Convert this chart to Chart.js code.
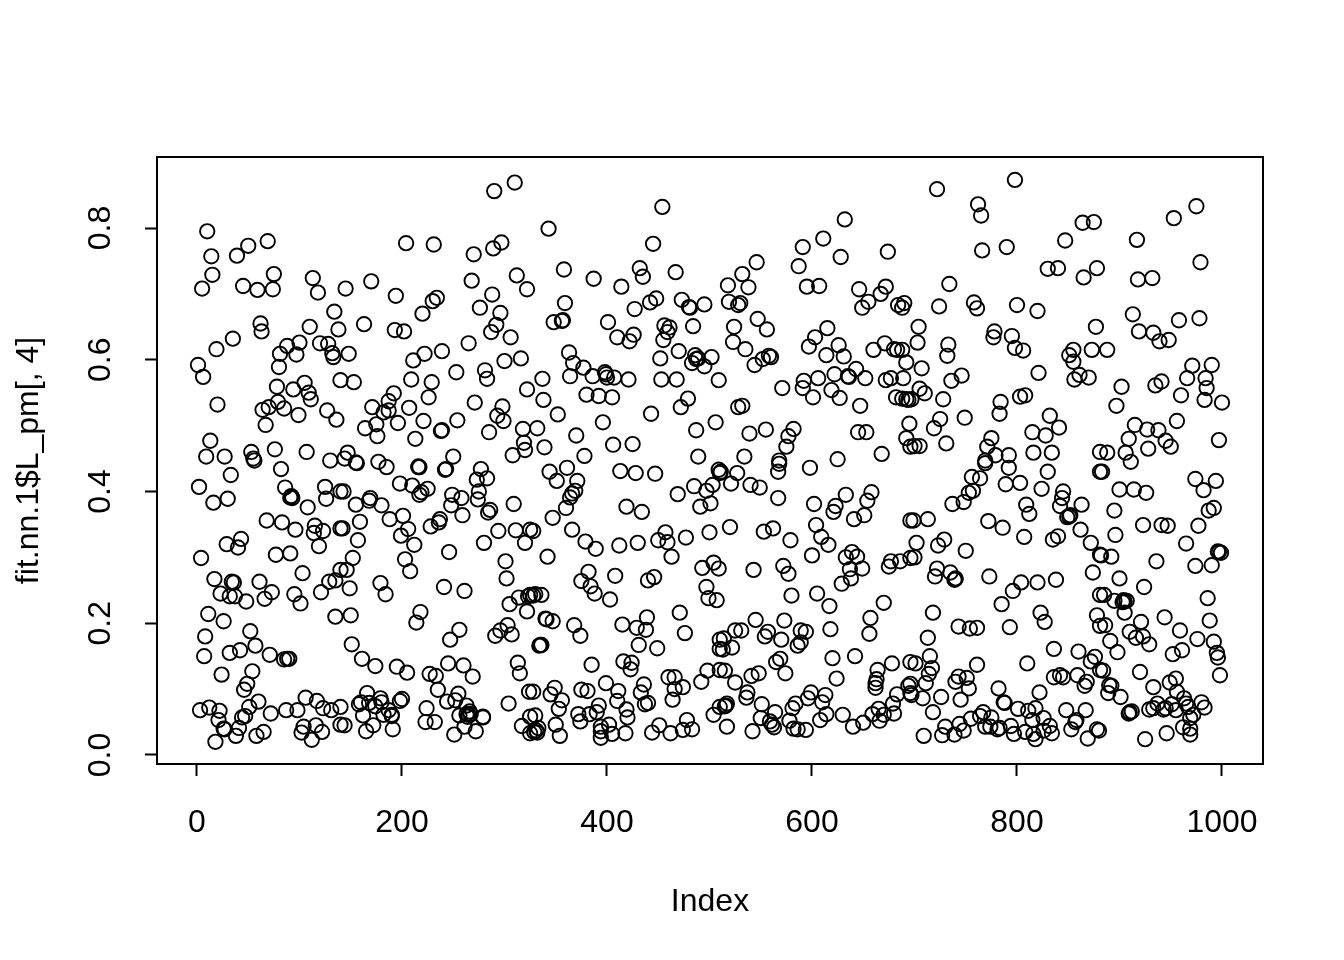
<!DOCTYPE html>
<html>
<head>
<meta charset="utf-8">
<script src="https://cdn.jsdelivr.net/npm/chart.js@4"></script>
<style>
  html, body { margin: 0; background: #fff; }
  canvas { display: block; }
</style>
</head>
<body>
<canvas id="chart" width="1344" height="960"></canvas>
<script>
// [Index, fit.nn.1$L_pm[, 4]], one list per block of the plot
const upper0 = [[10,.795],[14,.757],[50,.773],[39,.758],[69,.78],[15,.729],[5,.708],[45,.712],[59,.706],[75,.73],[74,.707],[113,.724],[118,.702],[134,.673],[62,.655],[63,.643],[110,.65],[138,.646],[35,.632],[19,.616],[1,.592],[6,.574],[100,.626],[88,.621],[81,.609],[97,.608],[80,.589],[120,.625],[128,.624],[132,.61],[133,.604],[140,.569],[105,.565],[78,.559],[94,.555],[109,.55],[111,.54],[79,.536],[70,.528],[64,.524],[85,.526],[99,.516],[127,.523],[136,.509],[67,.501],[20,.532],[13,.477],[9,.453],[27,.453],[53,.46],[55,.45],[56,.447],[76,.464],[107,.46],[130,.447]];
const lower0 = [[82,.434],[33,.425],[2,.407],[30,.389],[16,.383],[86,.406],[125,.407],[92,.393],[93,.39],[91,.391],[126,.389],[108,.376],[140,.4],[68,.356],[83,.353],[96,.342],[115,.348],[114,.337],[123,.34],[140,.344],[119,.317],[43,.328],[29,.32],[40,.315],[4,.299],[77,.304],[91,.306],[103,.276],[17,.267],[23,.245],[34,.263],[36,.262],[32,.241],[37,.241],[48,.233],[61,.263],[73,.247],[66,.237],[95,.244],[101,.23],[121,.247],[129,.263],[135,.265],[140,.281],[135,.21],[11,.214],[26,.203],[52,.188],[8,.18],[57,.166],[42,.159],[32,.155],[71,.152],[7,.15],[85,.145],[88,.146],[90,.146],[54,.127],[24,.122],[49,.108],[46,.099],[106,.087],[117,.082],[60,.081],[51,.073],[123,.071],[131,.068],[140,.073],[3,.068],[12,.072],[22,.067],[87,.068],[98,.068],[72,.063],[47,.059],[44,.057],[21,.053],[41,.041],[26,.04],[27,.039],[38,.029],[18,.02],[58,.029],[65,.035],[104,.043],[102,.034],[116,.045],[122,.035],[112,.023],[140,.046]];
const upper1 = [[310,.869],[290,.856],[204,.777],[231,.775],[297,.778],[289,.769],[270,.76],[268,.72],[312,.728],[322,.707],[288,.699],[170,.719],[145,.708],[194,.697],[234,.694],[230,.689],[220,.67],[276,.679],[296,.671],[292,.653],[287,.642],[306,.634],[163,.654],[193,.645],[202,.643],[148,.609],[153,.566],[265,.625],[239,.613],[222,.609],[211,.599],[253,.581],[281,.584],[283,.571],[300,.598],[316,.602],[209,.57],[229,.566],[226,.543],[322,.555],[192,.549],[187,.537],[171,.528],[182,.52],[187,.523],[207,.527],[271,.535],[298,.529],[293,.515],[299,.507],[175,.502],[164,.496],[176,.484],[196,.504],[221,.507],[254,.508],[239,.493],[238,.492],[213,.48],[285,.49],[318,.495],[319,.474],[320,.463],[308,.455],[250,.453],[147,.459],[144,.45]];
const lower1 = [[156,.443],[155,.444],[177,.445],[185,.437],[216,.437],[216,.438],[217,.437],[242,.433],[243,.434],[277,.434],[273,.418],[283,.42],[198,.412],[210,.409],[225,.404],[219,.399],[217,.395],[275,.4],[274,.388],[249,.395],[258,.39],[248,.379],[259,.364],[286,.372],[284,.368],[309,.381],[143,.4],[169,.39],[168,.386],[155,.38],[180,.379],[188,.358],[201,.363],[159,.354],[206,.343],[199,.333],[212,.319],[142,.344],[157,.326],[237,.358],[236,.353],[228,.347],[294,.34],[311,.341],[325,.342],[320,.322],[280,.322],[246,.308],[152,.299],[146,.281],[203,.297],[208,.279],[149,.253],[179,.261],[184,.244],[301,.294],[302,.268],[241,.255],[261,.249],[314,.239],[325,.243],[323,.241],[305,.229],[322,.218],[150,.212],[218,.217],[214,.201],[256,.19],[247,.175],[303,.197],[296,.189],[291,.181],[307,.183],[151,.168],[161,.146],[174,.135],[195,.134],[205,.125],[245,.139],[260,.136],[269,.119],[227,.123],[233,.12],[313,.14],[315,.124],[235,.099],[255,.093],[324,.096],[244,.081],[252,.083],[304,.078],[166,.094],[179,.086],[160,.08],[158,.077],[168,.079],[174,.074],[180,.08],[200,.085],[198,.082],[162,.06],[182,.061],[187,.068],[190,.061],[190,.059],[224,.071],[263,.075],[266,.066],[256,.06],[263,.062],[265,.061],[267,.062],[264,.058],[279,.058],[279,.057],[144,.045],[172,.045],[165,.036],[191,.039],[223,.05],[232,.05],[261,.043],[251,.031],[272,.036],[317,.044],[325,.058],[325,.033]];
const upper2 = [[454,.832],[343,.799],[445,.776],[358,.737],[387,.723],[432,.739],[435,.726],[467,.733],[414,.711],[448,.693],[442,.687],[427,.677],[359,.686],[473,.691],[480,.68],[481,.679],[495,.684],[357,.66],[356,.659],[348,.657],[401,.657],[484,.651],[456,.652],[461,.649],[459,.642],[455,.63],[426,.638],[410,.634],[422,.628],[470,.613],[452,.602],[363,.611],[367,.595],[364,.575],[377,.588],[386,.575],[398,.581],[399,.578],[400,.573],[407,.573],[421,.57],[453,.57],[468,.57],[486,.607],[489,.602],[487,.601],[483,.595],[495,.59],[502,.604],[337,.571],[338,.539],[380,.547],[392,.545],[405,.543],[479,.541],[472,.528],[509,.569],[352,.517],[443,.518],[396,.505],[506,.505],[332,.496],[370,.485],[487,.493],[339,.467],[406,.471],[425,.472],[378,.454],[489,.453]];
const lower2 = [[344,.43],[361,.436],[351,.416],[413,.431],[428,.428],[447,.427],[371,.416],[369,.401],[366,.397],[364,.391],[360,.375],[469,.396],[485,.408],[497,.401],[503,.41],[491,.377],[501,.382],[419,.377],[434,.369],[509,.433],[347,.36],[366,.342],[328,.34],[379,.324],[389,.313],[412,.318],[430,.322],[450,.326],[457,.338],[459,.323],[477,.33],[500,.338],[463,.301],[342,.301],[493,.284],[504,.292],[509,.283],[382,.278],[408,.272],[375,.264],[384,.256],[388,.245],[403,.236],[440,.265],[446,.27],[497,.255],[499,.238],[507,.235],[330,.244],[328,.242],[336,.243],[340,.207],[341,.206],[347,.203],[368,.197],[374,.181],[415,.198],[429,.193],[439,.209],[438,.19],[471,.216],[476,.185],[431,.167],[449,.162],[335,.167],[336,.167],[334,.166],[510,.175],[510,.161],[385,.137],[416,.142],[424,.14],[423,.13],[498,.128],[492,.111],[510,.129],[460,.118],[466,.118],[474,.103],[466,.1],[464,.084],[399,.109],[411,.097],[349,.102],[345,.092],[328,.096],[356,.083],[353,.07],[375,.099],[381,.097],[436,.107],[433,.095],[410,.082],[437,.077],[440,.079],[392,.075],[419,.069],[420,.057],[372,.062],[374,.051],[383,.062],[390,.065],[330,.06],[504,.061],[510,.073],[478,.053],[451,.045],[350,.046],[333,.041],[331,.037],[329,.035],[332,.034],[354,.029],[394,.043],[402,.046],[394,.036],[394,.026],[405,.032],[418,.033],[444,.034],[462,.033],[474,.038],[483,.039]];
const upper3 = [[632,.813],[611,.784],[591,.771],[628,.756],[674,.764],[587,.742],[546,.748],[532,.73],[518,.713],[538,.71],[595,.711],[607,.712],[646,.707],[672,.711],[667,.7],[655,.688],[649,.679],[519,.688],[530,.686],[528,.683],[684,.683],[688,.679],[690,.686],[547,.662],[556,.646],[524,.65],[523,.627],[535,.616],[615,.648],[603,.634],[597,.62],[626,.622],[614,.607],[631,.605],[660,.615],[671,.625],[680,.616],[683,.615],[688,.615],[692,.596],[558,.606],[560,.604],[552,.601],[544,.592],[571,.557],[592,.568],[591,.557],[606,.572],[622,.578],[643,.586],[635,.575],[636,.574],[652,.572],[619,.554],[627,.542],[601,.543],[647,.53],[672,.569],[677,.572],[689,.572],[682,.543],[688,.541],[692,.54],[528,.528],[532,.53],[539,.488],[555,.494],[582,.495],[577,.484],[575,.468],[645,.49],[653,.49],[695,.503],[692,.481],[696,.468],[668,.457],[534,.453],[568,.447],[625,.449],[598,.436]];
const lower3 = [[511,.43],[510,.428],[527,.428],[521,.412],[540,.41],[549,.406],[567,.43],[568,.442],[567,.39],[602,.381],[633,.395],[623,.378],[621,.369],[658,.399],[654,.386],[641,.358],[651,.364],[696,.356],[520,.346],[553,.339],[562,.344],[579,.326],[604,.349],[609,.331],[616,.319],[600,.303],[639,.308],[633,.3],[644,.301],[696,.299],[637,.282],[649,.283],[638,.268],[629,.26],[677,.294],[675,.286],[686,.294],[543,.281],[572,.287],[577,.275],[580,.242],[605,.245],[617,.226],[670,.231],[545,.205],[573,.204],[525,.189],[531,.189],[514,.177],[513,.16],[522,.163],[557,.187],[554,.18],[570,.175],[589,.189],[594,.187],[589,.171],[586,.166],[618,.191],[657,.208],[656,.184],[620,.147],[642,.15],[678,.139],[569,.146],[565,.141],[574,.124],[696,.141],[664,.129],[663,.115],[662,.109],[662,.102],[624,.116],[515,.128],[548,.124],[541,.12],[525,.11],[537,.095],[536,.087],[517,.078],[516,.075],[515,.074],[551,.077],[584,.078],[581,.071],[599,.095],[596,.086],[613,.091],[610,.08],[614,.062],[608,.053],[564,.065],[550,.056],[559,.051],[561,.046],[563,.042],[578,.052],[582,.04],[586,.039],[594,.038],[542,.036],[517,.043],[630,.061],[640,.043],[650,.049],[659,.062],[665,.07],[670,.061],[666,.052],[680,.063],[679,.078],[683,.092],[694,.105],[696,.094]];
const upper4 = [[722,.859],[798,.873],[762,.836],[765,.819],[864,.808],[875,.809],[847,.781],[766,.766],[790,.771],[830,.738],[840,.739],[865,.725],[878,.739],[734,.715],[758,.687],[761,.678],[724,.681],[800,.683],[820,.674],[704,.65],[703,.626],[733,.623],[732,.606],[707,.587],[778,.643],[777,.634],[795,.636],[798,.618],[806,.614],[877,.65],[855,.615],[873,.615],[851,.607],[855,.597],[821,.58],[746,.576],[736,.568],[861,.577],[870,.573],[856,.57],[705,.556],[710,.549],[697,.54],[694,.539],[728,.54],[784,.536],[783,.518],[803,.544],[808,.546],[832,.515],[749,.512],[725,.51],[719,.496],[841,.497],[815,.49],[828,.485],[731,.473],[775,.481],[771,.468],[700,.469],[705,.469],[881,.46],[816,.459],[834,.459],[792,.455],[779,.455],[769,.447]];
const lower4 = [[769,.443],[792,.436],[830,.43],[881,.43],[756,.422],[764,.42],[789,.411],[803,.413],[824,.404],[757,.401],[753,.398],[748,.384],[737,.381],[845,.4],[844,.39],[842,.378],[863,.38],[809,.38],[812,.366],[852,.364],[851,.362],[849,.361],[862,.342],[772,.355],[786,.345],[713,.358],[699,.356],[702,.322],[700,.3],[729,.327],[723,.318],[750,.31],[807,.331],[835,.327],[840,.332],[872,.322],[881,.304],[722,.283],[720,.271],[735,.277],[740,.267],[739,.266],[740,.268],[773,.271],[804,.262],[820,.262],[838,.266],[874,.277],[796,.249],[785,.229],[881,.243],[823,.216],[827,.202],[718,.216],[878,.212],[881,.196],[743,.195],[754,.192],[761,.193],[793,.194],[713,.178],[715,.15],[701,.139],[717,.132],[714,.123],[711,.109],[697,.091],[696,.108],[708,.086],[726,.088],[745,.084],[761,.137],[743,.119],[740,.111],[751,.117],[753,.101],[810,.139],[836,.161],[860,.157],[872,.142],[876,.149],[881,.129],[836,.118],[842,.121],[845,.118],[859,.121],[868,.111],[866,.105],[782,.101],[822,.095],[787,.08],[788,.079],[718,.065],[801,.07],[818,.071],[811,.067],[815,.053],[826,.056],[848,.068],[867,.068],[858,.053],[857,.05],[853,.039],[832,.044],[767,.065],[775,.057],[764,.059],[755,.055],[744,.047],[730,.043],[727,.03],[739,.031],[748,.037],[709,.029],[769,.043],[774,.043],[781,.039],[783,.041],[794,.044],[797,.032],[808,.035],[816,.032],[818,.024],[826,.037],[834,.033],[869,.025],[878,.039],[880,.037]];
const upper5 = [[975,.833],[953,.815],[917,.782],[979,.748],[918,.722],[932,.724],[913,.669],[978,.663],[958,.66],[919,.643],[933,.641],[939,.628],[948,.63],[888,.615],[971,.591],[990,.592],[966,.572],[984,.572],[985,.557],[902,.559],[941,.567],[935,.561],[960,.546],[983,.539],[1000,.535],[897,.53],[956,.507],[915,.501],[927,.494],[938,.493],[909,.48],[945,.477],[950,.468],[997,.478],[928,.465],[906,.459],[888,.459],[911,.445]];
const lower5 = [[883,.43],[900,.403],[914,.403],[926,.398],[974,.419],[994,.416],[982,.402],[895,.371],[992,.375],[987,.371],[923,.349],[941,.349],[947,.348],[977,.348],[896,.334],[965,.321],[882,.303],[892,.301],[936,.294],[997,.308],[999,.307],[996,.309],[974,.287],[990,.288],[900,.268],[924,.255],[885,.243],[895,.234],[904,.235],[905,.233],[907,.234],[903,.232],[986,.238],[905,.216],[886,.197],[944,.209],[921,.202],[988,.204],[959,.189],[910,.187],[916,.178],[923,.18],[929,.168],[891,.173],[898,.156],[976,.176],[992,.172],[995,.155],[996,.148],[961,.159],[952,.153],[884,.128],[920,.126],[998,.121],[955,.116],[949,.11],[890,.106],[892,.105],[889,.094],[901,.088],[933,.103],[956,.096],[963,.086],[965,.078],[967,.073],[980,.08],[983,.072],[951,.077],[937,.078],[943,.069],[945,.071],[933,.071],[929,.069],[955,.068],[972,.061],[969,.056],[910,.065],[912,.066],[909,.063],[925,.024],[946,.033],[962,.042],[969,.04],[969,.031]];

const xTickValues = [0, 200, 400, 600, 800, 1000];
const yTickValues = [0, 0.2, 0.4, 0.6, 0.8];

const allPoints = [
  ...upper0, ...lower0, ...upper1, ...lower1, ...upper2, ...lower2,
  ...upper3, ...lower3, ...upper4, ...lower4, ...upper5, ...lower5,
].map(([x, y]) => ({ x, y }));

const textFont = { family: "'Liberation Sans', Arial, sans-serif", size: 32 };

// the box round the plot, R draws it on top of everything
const plotBox = {
  id: "plotBox",
  afterDatasetsDraw(chart) {
    const { ctx, chartArea: a } = chart;
    ctx.save();
    ctx.strokeStyle = "#000";
    ctx.lineWidth = 2;
    ctx.strokeRect(a.left, a.top, a.right - a.left, a.bottom - a.top);
    ctx.restore();
  },
};

const onlyTicks = (values) => (scale) => {
  scale.ticks = values.map((value) => ({ value }));
};

new Chart(document.getElementById("chart"), {
  type: "scatter",
  data: {
    datasets: [{
      data: allPoints,
      pointStyle: "circle",
      pointRadius: 7.2,
      pointBorderWidth: 1.9,
      pointBorderColor: "#000",
      pointBackgroundColor: "transparent",
    }],
  },
  options: {
    responsive: false,
    animation: false,
    layout: { padding: { left: 0, top: 157, right: 81, bottom: 0 } },
    plugins: { legend: { display: false }, tooltip: { enabled: false } },
    scales: {
      x: {
        type: "linear",
        min: -39,
        max: 1040,
        afterBuildTicks: onlyTicks(xTickValues),
        afterFit: (scale) => { scale.height = 196; },
        grid: { drawOnChartArea: false, tickLength: 12, tickColor: "#000", tickWidth: 2 },
        border: { display: false },
        ticks: { color: "#000", font: textFont, padding: 28, autoSkip: false, maxRotation: 0, callback: (v) => String(v) },
        title: { display: true, text: "Index", color: "#000", font: textFont, padding: { top: 0, bottom: 39 } },
      },
      y: {
        type: "linear",
        min: -0.0137,
        max: 0.9078,
        afterBuildTicks: onlyTicks(yTickValues),
        afterFit: (scale) => { scale.width = 157; },
        grid: { drawOnChartArea: false, tickLength: 12, tickColor: "#000", tickWidth: 2 },
        border: { display: false },
        ticks: { color: "#000", font: textFont, padding: 22, autoSkip: false, minRotation: 90, maxRotation: 90, crossAlign: "center", callback: (v) => v.toFixed(1) },
        title: { display: true, text: "fit.nn.1$L_pm[, 4]", color: "#000", font: textFont, padding: { top: 10, bottom: 0 } },
      },
    },
  },
  plugins: [plotBox],
});
</script>
</body>
</html>
